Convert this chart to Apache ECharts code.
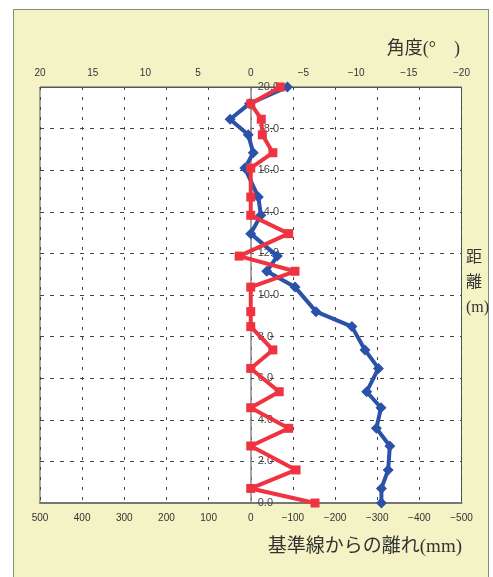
<!DOCTYPE html>
<html>
<head>
<meta charset="utf-8">
<script src="https://cdn.jsdelivr.net/npm/echarts@6/dist/echarts.min.js"></script>
<style>
html,body{margin:0;padding:0;background:#fff;}
#panel{position:absolute;left:13px;top:9px;width:476px;height:580px;background:#f3f3c6;border:1px solid #8a8a80;box-sizing:border-box;}
#chart{position:absolute;left:0;top:0;width:493px;height:577px;}
</style>
</head>
<body>
<div id="panel"></div>
<div id="chart"></div>
<script>
// depth (m) of each measuring point
const depth = [20, 19.2, 18.45, 17.7, 16.84, 16.1, 14.71, 13.83, 12.95, 11.87, 11.14, 10.38, 9.2, 8.48, 7.36, 6.47, 5.35, 4.58, 3.59, 2.74, 1.59, 0.7, 0];
// angle (deg) – red, top axis
const angle = [-2.8, 0, -1.0, -1.1, -2.1, 0, 0, 0, -3.6, 1.1, -4.2, 0, 0, 0, -2.1, 0, -2.7, 0, -3.6, 0, -4.3, 0, -6.1];
// deviation from base line (mm) – blue, bottom axis
const deviation = [-87, 3, 49, 6, -6, 14, -18, -24, 0, -63, -38, -105, -155, -240, -271, -303, -275, -309, -298, -330, -326, -310, -310];

const mmTicks = [500, 400, 300, 200, 100, 0, -100, -200, -300, -400, -500];
const degTicks = [20, 15, 10, 5, 0, -5, -10, -15, -20];
const depthTicks = ['0.0','2.0','4.0','6.0','8.0','10.0','12.0','14.0','16.0','18.0','20.0'];

const fmtNum = v => (v < 0 ? '\u2212' + Math.abs(v) : String(v));
const labelFont = {color:'#333', fontSize:10, fontFamily:'Liberation Sans, Arial, sans-serif'};
const cjk = "'Liberation Serif', 'Noto Sans CJK JP', serif";

const W = 493, gridL = 40, gridR = 31.5;
const zeroOffset = -((W - gridL - gridR) / 2); // move depth axis onto the x = 0 line

const chart = echarts.init(document.getElementById('chart'), null, {renderer:'canvas'});
chart.setOption({
  backgroundColor: 'transparent',
  animation: false,
  grid: {left:gridL, right:gridR, top:87, bottom:74, show:true, backgroundColor:'#fff', borderColor:'#555', borderWidth:1},
  xAxis: [
    {type:'value', position:'bottom', inverse:true, min:-500, max:500, interval:100,
     axisLine:{show:true, onZero:false, lineStyle:{color:'#777', width:2}},
     axisTick:{show:false},
     axisLabel:Object.assign({margin:10, formatter:fmtNum}, labelFont),
     splitLine:{show:true, lineStyle:{color:'#444', type:[3,7], width:1}}},
    {type:'value', position:'top', inverse:true, min:-20, max:20, interval:5,
     axisLine:{show:true, onZero:false, lineStyle:{color:'#555', width:1}},
     axisTick:{show:false},
     axisLabel:Object.assign({margin:9, formatter:fmtNum}, labelFont),
     splitLine:{show:false}}
  ],
  yAxis: {type:'value', min:0, max:20, interval:2, position:'left', offset:zeroOffset,
    axisLine:{show:true, onZero:false, lineStyle:{color:'#888', width:1.5}},
    axisTick:{show:false},
    axisLabel:{inside:true, margin:7, color:'#444', fontSize:11, fontFamily:'Liberation Sans, Arial, sans-serif',
      formatter: v => depthTicks[Math.round(v/2)]},
    splitLine:{show:true, lineStyle:{color:'#444', type:[4,6], width:1}}},
  series: [
    {name:'離れ', type:'line', xAxisIndex:0, yAxisIndex:0,
     data: depth.map((d,i)=>[deviation[i], d]),
     symbol:'diamond', symbolSize:11,
     lineStyle:{color:'#2a52a8', width:4}, itemStyle:{color:'#2a52a8'}, z:3},
    {name:'角度', type:'line', xAxisIndex:1, yAxisIndex:0,
     data: depth.map((d,i)=>[angle[i], d]),
     symbol:'rect', symbolSize:9,
     lineStyle:{color:'#ef3340', width:4}, itemStyle:{color:'#ef3340'}, z:4}
  ],
  graphic: [
    {type:'text', right:33, top:40, style:{text:'角度(°　)', font:"18px " + cjk, fill:'#333'}},
    {type:'text', right:31, top:538, style:{text:'基準線からの離れ(mm)', font:"19px " + cjk, fill:'#333'}},
    {type:'text', left:466, top:245, style:{text:'距\n離\n(m)', font:"16px " + cjk, fill:'#333', lineHeight:25, align:'center', width:22}}
  ]
});
</script>
</body>
</html>
